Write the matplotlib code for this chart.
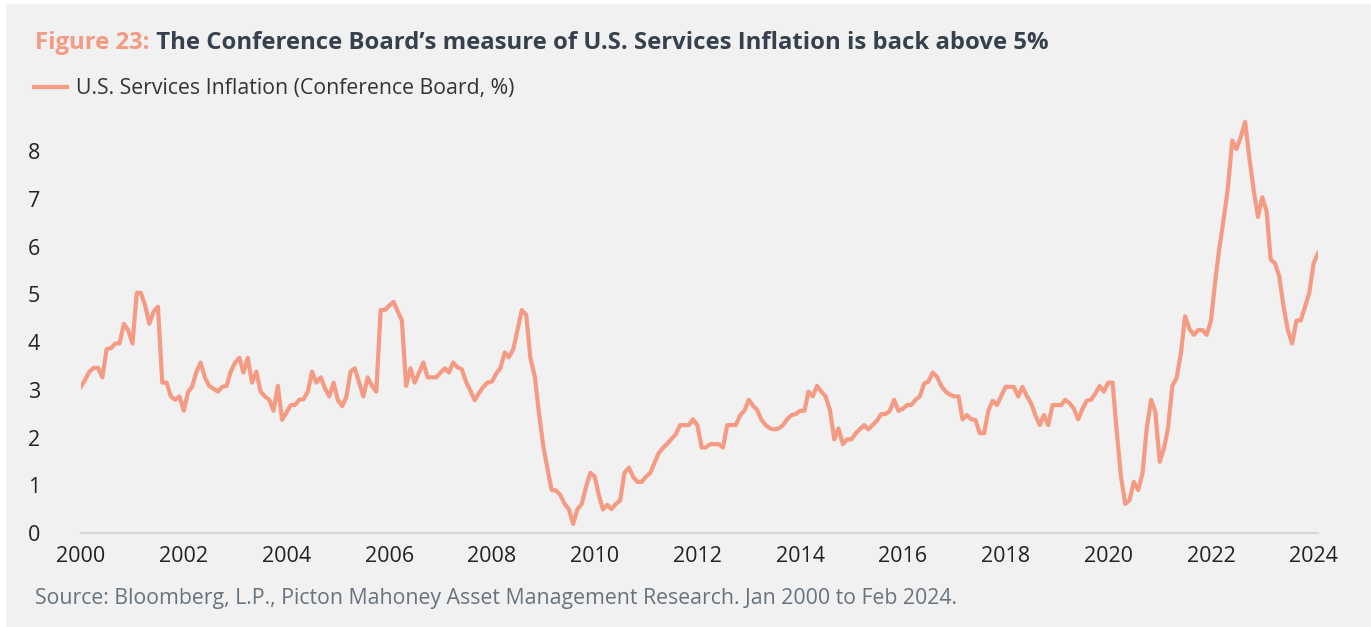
import matplotlib
matplotlib.use("Agg")
import matplotlib.pyplot as plt
import matplotlib.dates as mdates
from matplotlib.patches import Rectangle
import pandas as pd

plt.rcParams['font.family'] = ['Open Sans', 'DejaVu Sans']

# monthly readings, Jan 2000 .. Feb 2024 (%)
y2000 = [3.06, 3.22, 3.38, 3.46, 3.46, 3.26, 3.85, 3.87, 3.97, 3.97, 4.38, 4.25]
y2001 = [3.97, 5.03, 5.03, 4.77, 4.38, 4.64, 4.74, 3.15, 3.15, 2.86, 2.79, 2.86]
y2002 = [2.56, 2.96, 3.06, 3.38, 3.57, 3.25, 3.08, 3.02, 2.96, 3.06, 3.08, 3.38]
y2003 = [3.57, 3.67, 3.36, 3.67, 3.15, 3.38, 2.96, 2.86, 2.79, 2.56, 3.08, 2.37]
y2004 = [2.52, 2.68, 2.68, 2.79, 2.80, 2.96, 3.38, 3.15, 3.26, 3.03, 2.86, 3.15]
y2005 = [2.78, 2.66, 2.84, 3.38, 3.45, 3.15, 2.86, 3.26, 3.08, 2.96, 4.67, 4.67]
y2006 = [4.76, 4.84, 4.65, 4.45, 3.08, 3.45, 3.15, 3.36, 3.57, 3.26, 3.26, 3.26]
y2007 = [3.36, 3.45, 3.36, 3.57, 3.47, 3.43, 3.17, 2.98, 2.78, 2.93, 3.06, 3.15]
y2008 = [3.17, 3.34, 3.45, 3.78, 3.68, 3.85, 4.25, 4.67, 4.57, 3.66, 3.28, 2.51]
y2009 = [1.81, 1.32, 0.90, 0.89, 0.80, 0.61, 0.50, 0.19, 0.50, 0.61, 0.97, 1.26]
y2010 = [1.18, 0.78, 0.49, 0.59, 0.50, 0.61, 0.68, 1.26, 1.37, 1.18, 1.07, 1.07]
y2011 = [1.18, 1.26, 1.46, 1.67, 1.78, 1.87, 1.97, 2.07, 2.26, 2.26, 2.26, 2.38]
y2012 = [2.26, 1.79, 1.79, 1.86, 1.86, 1.86, 1.79, 2.26, 2.26, 2.26, 2.47, 2.56]
y2013 = [2.79, 2.66, 2.58, 2.37, 2.26, 2.19, 2.17, 2.19, 2.26, 2.38, 2.47, 2.49]
y2014 = [2.56, 2.56, 2.96, 2.86, 3.08, 2.96, 2.86, 2.58, 1.96, 2.19, 1.86, 1.96]
y2015 = [1.96, 2.09, 2.17, 2.26, 2.17, 2.26, 2.35, 2.49, 2.49, 2.56, 2.79, 2.56]
y2016 = [2.60, 2.68, 2.68, 2.79, 2.86, 3.13, 3.17, 3.36, 3.27, 3.08, 2.96, 2.90]
y2017 = [2.86, 2.86, 2.38, 2.47, 2.38, 2.37, 2.09, 2.09, 2.56, 2.77, 2.68, 2.87]
y2018 = [3.06, 3.06, 3.06, 2.86, 3.06, 2.87, 2.72, 2.47, 2.26, 2.47, 2.26, 2.68]
y2019 = [2.68, 2.68, 2.79, 2.72, 2.61, 2.38, 2.59, 2.77, 2.79, 2.92, 3.08, 2.96]
y2020 = [3.15, 3.15, 2.15, 1.18, 0.61, 0.69, 1.07, 0.90, 1.25, 2.19, 2.79, 2.54]
y2021 = [1.49, 1.77, 2.19, 3.08, 3.24, 3.76, 4.54, 4.27, 4.15, 4.25, 4.25, 4.15]
y2022 = [4.45, 5.30, 5.96, 6.57, 7.22, 8.22, 8.04, 8.30, 8.61, 7.85, 7.17, 6.62]
y2023 = [7.03, 6.73, 5.73, 5.65, 5.38, 4.74, 4.25, 3.97, 4.45, 4.45, 4.74, 5.03]
y2024 = [5.65, 5.86]

services = (y2000 + y2001 + y2002 + y2003 + y2004 + y2005 + y2006 + y2007 +
            y2008 + y2009 + y2010 + y2011 + y2012 + y2013 + y2014 + y2015 +
            y2016 + y2017 + y2018 + y2019 + y2020 + y2021 + y2022 + y2023 + y2024)
months = pd.date_range('2000-01-01', periods=len(services), freq='MS')

salmon = '#f59a83'
slate = '#36414d'

fig = plt.figure(figsize=(13.71, 6.27), dpi=100)
fig.patch.set_facecolor('white')
fig.patches.append(Rectangle((6 / 1371, 0), 1, 1 - 4 / 627, transform=fig.transFigure,
                             facecolor='#f1f1f1', edgecolor='none', zorder=-10))

ax = fig.add_axes([81 / 1371, 1 - 533 / 627, (1318 - 81) / 1371, 0.6854])
ax.set_facecolor('none')
ax.plot(months, services, color=salmon, lw=3.0, solid_joinstyle='round',
        label='U.S. Services Inflation (Conference Board, %)')

ax.set_xlim(months[0], months[-1])
ax.set_ylim(0, 9)
ax.set_yticks(range(0, 9))
ax.xaxis.set_major_locator(mdates.YearLocator(2))
ax.xaxis.set_major_formatter(mdates.DateFormatter('%Y'))
ax.tick_params(axis='both', length=0, labelsize=15.5, labelcolor='#222222')
ax.tick_params(axis='x', pad=9)
ax.tick_params(axis='y', pad=34)
for lab in ax.get_yticklabels():
    lab.set_horizontalalignment('center')

for side in ['top', 'right', 'left']:
    ax.spines[side].set_visible(False)
ax.spines['bottom'].set_color('#d6d6d6')
ax.spines['bottom'].set_linewidth(1.5)

leg = ax.legend(loc='upper left', bbox_to_anchor=(34 / 1371, 1 - 78 / 627),
                bbox_transform=fig.transFigure, frameon=False, fontsize=15.3,
                handlelength=1.55, handletextpad=0.42, borderpad=0, borderaxespad=0)
for t in leg.get_texts():
    t.set_color('#333333')

# two-colour heading
head = fig.text(35 / 1371, 1 - 49 / 627, 'Figure 23:', color=salmon,
                fontsize=17.2, fontweight='bold', va='baseline')
ax.annotate(' The Conference Board\u2019s measure of U.S. Services Inflation is back above 5%',
            xy=(1, 0), xycoords=head, va='bottom', ha='left',
            color=slate, fontsize=17.2, fontweight='bold')

fig.text(35 / 1371, 1 - 604 / 627,
         'Source: Bloomberg, L.P., Picton Mahoney Asset Management Research. Jan 2000 to Feb 2024.',
         color='#66727e', fontsize=15.3, va='baseline')

fig.savefig('out.png', dpi=100, facecolor=fig.get_facecolor())
